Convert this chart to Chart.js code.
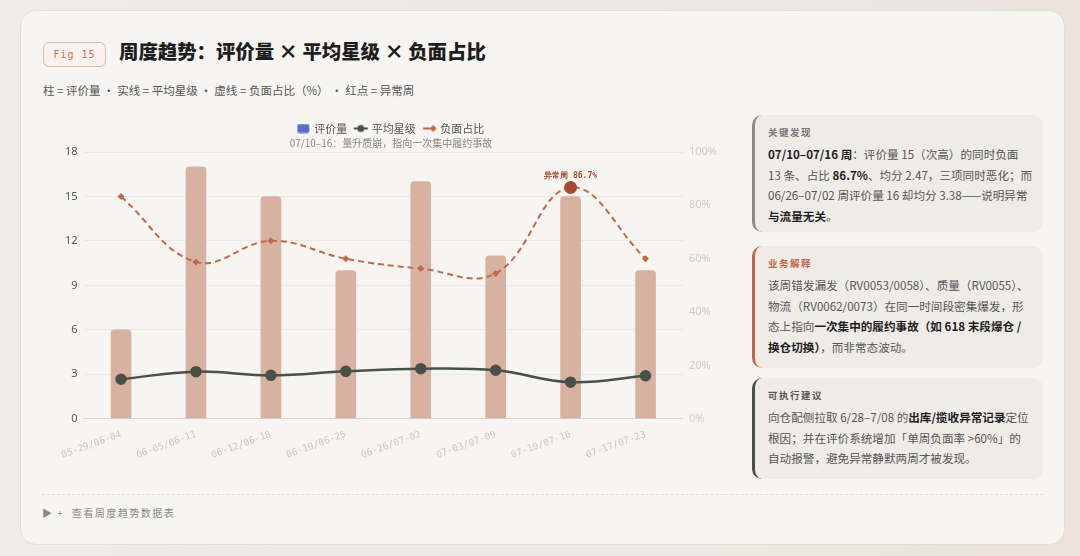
<!DOCTYPE html>
<html>
<head>
<meta charset="utf-8">
<script src="https://cdn.jsdelivr.net/npm/chart.js@4.4.0/dist/chart.umd.min.js"></script>
<style>
  html, body { margin: 0; padding: 0; }
  body {
    width: 1080px; height: 556px; overflow: hidden;
    background: linear-gradient(90deg, #efebe6 0%, #ede7e2 70%, #ebe2dc 100%);
    font-family: "Noto Sans CJK SC", "Noto Sans", sans-serif;
    position: relative;
  }
  .card {
    position: absolute; left: 20px; top: 10px; width: 1043px; height: 533px;
    background: #f7f5f1; border: 1px solid #e4ded7; border-radius: 16px;
  }
  .badge {
    position: absolute; left: 43px; top: 42px; width: 61px; height: 23px;
    border: 1px solid #e2bba8; border-radius: 6px; background: #f8f1ec;
    color: #c8735c; font: 10px "DejaVu Sans Mono", monospace; letter-spacing: 1px;
    line-height: 23px; text-align: center;
  }
  .title {
    position: absolute; left: 119px; top: 36px; font-size: 19.4px; font-weight: 900;
    color: #1e1e1e; white-space: nowrap;
  }
  .sub {
    position: absolute; left: 43px; top: 82px; font-size: 11.5px; color: #555; white-space: nowrap;
  }
  #wrap { position: absolute; left: 40px; top: 115px; width: 690px; height: 348px; }
  .panel {
    position: absolute; left: 752px; width: 291px; background: #efece8;
    border-radius: 10px; border-left: 3px solid #8c8a84; padding: 10px 0 0 13px;
    color: #555; font-size: 11.6px; line-height: 20.7px; box-sizing: border-box;
    white-space: nowrap; overflow: hidden;
  }
  .panel h4 { margin: 0 0 5px 0; font-size: 9.5px; letter-spacing: 1.5px; color: #777; font-weight: 700; line-height: 14px; }
  .panel b { color: #1e1e1e; }
  .divider { position: absolute; left: 42px; top: 494px; width: 1001px; border-top: 1px dashed #e2ddd6; }
  .foot { position: absolute; left: 42px; top: 505px; font-size: 10px; color: #888; letter-spacing: 1.5px; white-space: nowrap; }
</style>
</head>
<body>
<div class="card"></div>
<div class="badge">Fig 15</div>
<div class="title">周度趋势：评价量 × 平均星级 × 负面占比</div>
<div class="sub">柱 = 评价量 · 实线 = 平均星级 · 虚线 = 负面占比（%） · 红点 = 异常周</div>
<div id="wrap"><canvas id="c"></canvas></div>

<div class="panel" style="top:115px;height:117px;border-left-color:#8c8a84">
  <h4>关键发现</h4>
  <b>07/10–07/16 周</b>：评价量 15（次高）的同时负面<br>13 条、占比 <b>86.7%</b>、均分 2.47，三项同时恶化；而<br>06/26–07/02 周评价量 16 却均分 3.38——说明异常<br><b>与流量无关</b>。
</div>
<div class="panel" style="top:246px;height:122px;border-left-color:#c0694a">
  <h4 style="color:#c0694a">业务解释</h4>
  该周错发漏发（RV0053/0058）、质量（RV0055）、<br>物流（RV0062/0073）在同一时间段密集爆发，形<br>态上指向<b>一次集中的履约事故（如 618 末段爆仓 /<br>换仓切换）</b>，而非常态波动。
</div>
<div class="panel" style="top:378px;height:101px;border-left-color:#4a5048">
  <h4 style="color:#555">可执行建议</h4>
  向仓配侧拉取 6/28–7/08 的<b>出库/揽收异常记录</b>定位<br>根因；并在评价系统增加「单周负面率 &gt;60%」的<br>自动报警，避免异常静默两周才被发现。
</div>
<div class="divider"></div>
<div class="foot">▶ +&nbsp;&nbsp;查看周度趋势数据表</div>

<script>
const weeks = ["05-29/06-04", "06-05/06-11", "06-12/06-18", "06-19/06-25",
               "06-26/07-02", "07-03/07-09", "07-10/07-16", "07-17/07-23"];
const reviewCounts = [6, 17, 15, 10, 16, 11, 15, 10];
const avgStars = [2.67, 3.18, 2.93, 3.2, 3.38, 3.27, 2.47, 2.9];
const negativePct = [83.3, 58.8, 66.7, 60.0, 56.3, 54.5, 86.7, 60.0];
const anomalyWeek = 6;
const leftTicks = [0, 3, 6, 9, 12, 15, 18];

const barColor = "#d8b2a1";
const starColor = "#4a5048";
const negColor = "#c0694a";
const alertColor = "#a8482e";

// little legend icons
function icon(draw) {
  const cv = document.createElement("canvas");
  cv.width = 18; cv.height = 10;
  draw(cv.getContext("2d"));
  return cv;
}
const barIcon = icon(g => { g.fillStyle = "#5b6fc4"; g.beginPath(); g.roundRect(3, 0.5, 12, 9, 2); g.fill(); });
const starIcon = icon(g => {
  g.strokeStyle = starColor; g.lineWidth = 2; g.beginPath(); g.moveTo(2, 5); g.lineTo(16, 5); g.stroke();
  g.fillStyle = starColor; g.beginPath(); g.arc(9, 5, 3.5, 0, Math.PI * 2); g.fill();
});
const negIcon = icon(g => {
  g.strokeStyle = negColor; g.lineWidth = 2; g.beginPath(); g.moveTo(3, 5); g.lineTo(12, 5); g.stroke();
  g.fillStyle = negColor; g.beginPath(); g.moveTo(13, 1.5); g.lineTo(16.5, 5); g.lineTo(13, 8.5); g.lineTo(9.5, 5); g.fill();
});

const anomalyLabel = {
  id: "anomalyLabel",
  afterDatasetsDraw(chart) {
    const x = chart.scales.x.getPixelForValue(anomalyWeek);
    const y = chart.scales.yPct.getPixelForValue(negativePct[anomalyWeek]);
    const g = chart.ctx;
    g.save();
    g.fillStyle = alertColor;
    g.font = "bold 8px 'DejaVu Sans Mono', monospace";
    g.textAlign = "center";
    g.fillText("异常周 " + negativePct[anomalyWeek] + "%", x, y - 12);
    g.restore();
  }
};

new Chart(document.getElementById("c"), {
  data: {
    labels: weeks,
    datasets: [
      {
        type: "line", label: "平均星级", data: avgStars, yAxisID: "y",
        borderColor: starColor, backgroundColor: starColor, borderWidth: 2.5,
        pointRadius: 4.5, pointHoverRadius: 4.5, tension: 0.4, order: 1
      },
      {
        type: "line", label: "负面占比", data: negativePct, yAxisID: "yPct",
        borderColor: negColor, backgroundColor: negativePct.map((v, i) => i === anomalyWeek ? alertColor : negColor),
        borderWidth: 2, borderDash: [6, 4], tension: 0.4,
        pointStyle: negativePct.map((v, i) => i === anomalyWeek ? "circle" : "rectRot"),
        pointRadius: negativePct.map((v, i) => i === anomalyWeek ? 6.5 : 3.5),
        pointBorderWidth: 0, order: 0
      },
      {
        type: "bar", label: "评价量", data: reviewCounts, yAxisID: "y",
        backgroundColor: barColor, borderRadius: 4, borderSkipped: "bottom",
        barThickness: 20, order: 2
      }
    ]
  },
  options: {
    responsive: true, maintainAspectRatio: false, animation: false,
    layout: { padding: { left: 19, right: 7, top: 0, bottom: 0 } },
    plugins: {
      legend: {
        position: "top", weight: 1600,
        labels: {
          usePointStyle: true, boxWidth: 18, boxHeight: 10, padding: 8,
          color: "#555", font: { size: 11, family: "'Noto Sans CJK SC'" },
          generateLabels(chart) {
            const icons = [barIcon, starIcon, negIcon];
            return ["评价量", "平均星级", "负面占比"].map((t, i) => ({
              text: t, pointStyle: icons[i], fontColor: "#555", datasetIndex: [2, 0, 1][i],
              lineWidth: 0, strokeStyle: "transparent", fillStyle: "transparent", hidden: false
            }));
          }
        }
      },
      subtitle: {
        display: true, weight: 900,
        text: "07/10–16：量升质崩，指向一次集中履约事故",
        color: "#888", font: { size: 10, family: "'Noto Sans CJK SC'" },
        padding: { top: -7, bottom: 3 }
      },
      tooltip: { enabled: false }
    },
    scales: {
      x: {
        grid: { display: false },
        border: { color: "#d9d5cf" },
        ticks: {
          color: "#c9c5bf", font: { size: 9.5, family: "'DejaVu Sans Mono', monospace" },
          minRotation: 20, maxRotation: 20, autoSkip: false, padding: 2
        }
      },
      y: {
        position: "left", min: 0, max: 18,
        afterBuildTicks(axis) { axis.ticks = leftTicks.map(v => ({ value: v })); },
        grid: { color: "#ebe7e1", drawTicks: false },
        border: { display: false },
        ticks: { color: "#555", font: { size: 11, family: "'Noto Sans'" }, padding: 6 }
      },
      yPct: {
        position: "right", min: 0, max: 100,
        ticks: { stepSize: 20, color: "#cfcbc5", font: { size: 11, family: "'Noto Sans'" }, padding: 6,
                 callback: v => v + "%" },
        grid: { display: false, drawTicks: false },
        border: { display: false }
      }
    }
  },
  plugins: [anomalyLabel]
});
</script>
</body>
</html>
